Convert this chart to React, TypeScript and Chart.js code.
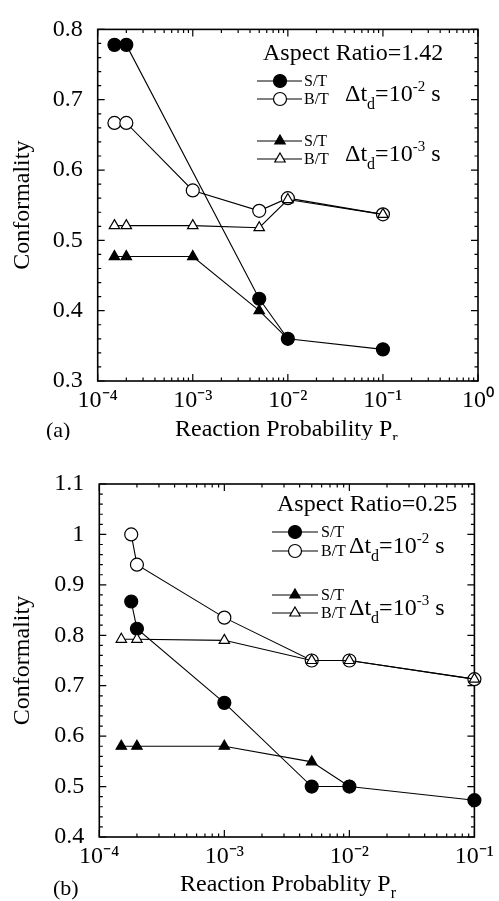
import React, { useEffect, useRef } from 'react';
import { Chart, registerables } from 'chart.js';

Chart.register(...registerables);

const SERIF = '"Liberation Serif", "Times New Roman", Times, serif';

// ---------- Panel (a): Aspect Ratio = 1.42 ----------
const A_X_TICKS = [1e-4, 1e-3, 1e-2, 1e-1, 1];
const A_X_LABELS = ['10⁻⁴', '10⁻³', '10⁻²', '10⁻¹', '10⁰'];
const A_Y_TICKS = [0.3, 0.4, 0.5, 0.6, 0.7, 0.8];
const A_Y_LABELS = ['0.3', '0.4', '0.5', '0.6', '0.7', '0.8'];

const A_ST2_X = [1.5e-4, 2e-4, 5e-3, 1e-2, 1e-1];
const A_ST2_Y = [0.778, 0.778, 0.417, 0.36, 0.345];
const A_BT2_X = [1.5e-4, 2e-4, 1e-3, 5e-3, 1e-2, 1e-1];
const A_BT2_Y = [0.667, 0.667, 0.571, 0.542, 0.56, 0.537];
const A_ST3_X = [1.5e-4, 2e-4, 1e-3, 5e-3, 1e-2];
const A_ST3_Y = [0.477, 0.477, 0.477, 0.4, 0.36];
const A_BT3_X = [1.5e-4, 2e-4, 1e-3, 5e-3, 1e-2, 1e-1];
const A_BT3_Y = [0.521, 0.521, 0.521, 0.518, 0.558, 0.537];

// ---------- Panel (b): Aspect Ratio = 0.25 ----------
const B_X_TICKS = [1e-4, 1e-3, 1e-2, 1e-1];
const B_X_LABELS = ['10⁻⁴', '10⁻³', '10⁻²', '10⁻¹'];
const B_Y_TICKS = [0.4, 0.5, 0.6, 0.7, 0.8, 0.9, 1.0, 1.1];
const B_Y_LABELS = ['0.4', '0.5', '0.6', '0.7', '0.8', '0.9', '1', '1.1'];

const B_ST2_X = [1.8e-4, 2e-4, 1e-3, 5e-3, 1e-2, 1e-1];
const B_ST2_Y = [0.867, 0.813, 0.666, 0.5, 0.5, 0.473];
const B_BT2_X = [1.8e-4, 2e-4, 1e-3, 5e-3, 1e-2, 1e-1];
const B_BT2_Y = [1.0, 0.94, 0.835, 0.75, 0.75, 0.713];
const B_ST3_X = [1.5e-4, 2e-4, 1e-3, 5e-3, 1e-2];
const B_ST3_Y = [0.58, 0.58, 0.58, 0.549, 0.5];
const B_BT3_X = [1.5e-4, 2e-4, 1e-3, 5e-3, 1e-2, 1e-1];
const B_BT3_Y = [0.792, 0.792, 0.79, 0.75, 0.75, 0.713];

const zip = (xs: number[], ys: number[]) => xs.map((x, i) => ({ x, y: ys[i] }));

type Seg = { t: string; size?: number; dy?: number };

function drawRich(ctx: CanvasRenderingContext2D, segs: Seg[], x: number, y: number, base: number) {
  let cx = x;
  ctx.textBaseline = 'alphabetic';
  ctx.textAlign = 'left';
  for (const s of segs) {
    const size = s.size ?? base;
    ctx.font = `${size}px ${SERIF}`;
    ctx.fillText(s.t, cx, y + (s.dy ?? 0));
    cx += ctx.measureText(s.t).width;
  }
}

function drawMarker(ctx: CanvasRenderingContext2D, kind: string, x: number, y: number) {
  ctx.beginPath();
  if (kind.startsWith('circle')) {
    ctx.arc(x, y, 6.5, 0, Math.PI * 2);
  } else {
    const r = 6;
    ctx.moveTo(x, y - r);
    ctx.lineTo(x + r * Math.sin((2 * Math.PI) / 3), y - r * Math.cos((2 * Math.PI) / 3));
    ctx.lineTo(x + r * Math.sin((4 * Math.PI) / 3), y - r * Math.cos((4 * Math.PI) / 3));
    ctx.closePath();
  }
  ctx.fillStyle = kind.endsWith('Open') ? '#fff' : '#000';
  ctx.fill();
  ctx.lineWidth = 1.2;
  ctx.strokeStyle = '#000';
  ctx.stroke();
}

const frameTicksPlugin = {
  id: 'frameTicks',
  beforeDatasetsDraw(chart: any) {
    const { ctx, chartArea } = chart;
    const { left, right, top, bottom } = chartArea;
    const xs = chart.scales.x;
    const ys = chart.scales.y;
    ctx.save();
    ctx.strokeStyle = '#000';
    ctx.lineWidth = 1.2;
    ctx.beginPath();
    const d0 = Math.round(Math.log10(xs.min));
    const d1 = Math.round(Math.log10(xs.max));
    for (let d = d0; d <= d1; d++) {
      for (let m = 1; m <= 9; m++) {
        const v = m * Math.pow(10, d);
        if (v > xs.max * 1.0001) break;
        const px = xs.getPixelForValue(v);
        const len = m === 1 ? 7 : 3.5;
        ctx.moveTo(px, bottom);
        ctx.lineTo(px, bottom - len);
        ctx.moveTo(px, top);
        ctx.lineTo(px, top + len);
      }
    }
    const n = Math.round((ys.max - ys.min) / 0.02);
    for (let i = 0; i <= n; i++) {
      const v = ys.min + i * 0.02;
      const py = ys.getPixelForValue(v);
      const len = i % 5 === 0 ? 7 : 3.5;
      ctx.moveTo(left, py);
      ctx.lineTo(left + len, py);
      ctx.moveTo(right, py);
      ctx.lineTo(right - len, py);
    }
    ctx.stroke();
    ctx.lineWidth = 1.6;
    ctx.strokeRect(left, top, right - left, bottom - top);
    ctx.restore();
  },
};

const annotPlugin = {
  id: 'annot',
  afterDraw(chart: any, _args: any, o: any) {
    const ctx: CanvasRenderingContext2D = chart.ctx;
    ctx.save();
    ctx.fillStyle = '#000';
    drawRich(ctx, [{ t: o.aspect }], o.aspectX, o.aspectY, 24);
    const kinds = ['circleFilled', 'circleOpen', 'triFilled', 'triOpen'];
    const names = ['S/T', 'B/T', 'S/T', 'B/T'];
    kinds.forEach((k, i) => {
      const y = o.rows[i];
      ctx.beginPath();
      ctx.strokeStyle = '#000';
      ctx.lineWidth = 1;
      ctx.moveTo(o.legX0, y);
      ctx.lineTo(o.legX1, y);
      ctx.stroke();
      drawMarker(ctx, k, o.legMarkX, y);
      ctx.fillStyle = '#000';
      drawRich(ctx, [{ t: names[i] }], o.labelX, y + 5, 16);
    });
    const exps = ['-2', '-3'];
    o.dtBaselines.forEach((b: number, i: number) => {
      drawRich(
        ctx,
        [
          { t: 'Δt' },
          { t: 'd', size: 16, dy: 8 },
          { t: '=10' },
          { t: exps[i], size: 15, dy: -10 },
          { t: ' s' },
        ],
        o.dtX,
        b,
        24
      );
    });
    drawRich(ctx, [{ t: o.xTitle }, { t: 'r', size: 16, dy: 7 }], o.xTitleX, o.xTitleY, 24);
    drawRich(ctx, [{ t: o.tag }], o.tagX, o.tagY, 22);
    ctx.restore();
  },
};

type Panel = {
  width: number;
  height: number;
  yAxisW: number;
  xAxisH: number;
  padTop: number;
  padRight: number;
  xMin: number;
  xMax: number;
  yMin: number;
  yMax: number;
  xTicks: number[];
  xLabels: string[];
  yTicks: number[];
  yLabels: string[];
  series: { data: { x: number; y: number }[]; kind: string }[];
  annot: any;
};

function makeDataset(data: { x: number; y: number }[], kind: string) {
  const open = kind.endsWith('Open');
  const tri = kind.startsWith('tri');
  return {
    data,
    showLine: true,
    borderColor: '#000',
    borderWidth: 1.1,
    pointStyle: tri ? 'triangle' : 'circle',
    pointRadius: tri ? 6 : 6.5,
    pointBackgroundColor: open ? '#fff' : '#000',
    pointBorderColor: '#000',
    pointBorderWidth: 1.2,
    clip: false,
    order: tri ? 1 : 2,
  };
}

function makeConfig(p: Panel): any {
  return {
    type: 'scatter',
    data: { datasets: p.series.map((s) => makeDataset(s.data, s.kind)) },
    options: {
      animation: false,
      responsive: false,
      events: [],
      layout: { padding: { top: p.padTop, right: p.padRight, left: 0, bottom: 0 } },
      plugins: {
        legend: { display: false },
        tooltip: { enabled: false },
        annot: p.annot,
      },
      scales: {
        x: {
          type: 'logarithmic',
          min: p.xMin,
          max: p.xMax,
          grid: { display: false, drawTicks: false },
          border: { display: false },
          afterBuildTicks: (s: any) => {
            s.ticks = p.xTicks.map((v) => ({ value: v }));
          },
          afterFit: (s: any) => {
            s.height = p.xAxisH;
          },
          ticks: {
            autoSkip: false,
            maxRotation: 0,
            padding: 5,
            color: '#000',
            font: { family: SERIF, size: 24 },
            callback: (_v: any, i: number) => p.xLabels[i],
          },
        },
        y: {
          type: 'linear',
          min: p.yMin,
          max: p.yMax,
          grid: { display: false, drawTicks: false },
          border: { display: false },
          afterBuildTicks: (s: any) => {
            s.ticks = p.yTicks.map((v) => ({ value: v }));
          },
          afterFit: (s: any) => {
            s.width = p.yAxisW;
          },
          ticks: {
            padding: 15,
            color: '#000',
            font: { family: SERIF, size: 24 },
            callback: (_v: any, i: number) => p.yLabels[i],
          },
          title: {
            display: true,
            text: 'Conformality',
            color: '#000',
            font: { family: SERIF, size: 24 },
            padding: { top: 8, bottom: 0 },
          },
        },
      },
    },
    plugins: [frameTicksPlugin, annotPlugin],
  };
}

const PANEL_A: Panel = {
  width: 499,
  height: 440,
  yAxisW: 97.7,
  xAxisH: 59,
  padTop: 27,
  padRight: 18,
  xMin: 1e-4,
  xMax: 1,
  yMin: 0.3,
  yMax: 0.8,
  xTicks: A_X_TICKS,
  xLabels: A_X_LABELS,
  yTicks: A_Y_TICKS,
  yLabels: A_Y_LABELS,
  series: [
    { data: zip(A_ST2_X, A_ST2_Y), kind: 'circleFilled' },
    { data: zip(A_BT2_X, A_BT2_Y), kind: 'circleOpen' },
    { data: zip(A_ST3_X, A_ST3_Y), kind: 'triFilled' },
    { data: zip(A_BT3_X, A_BT3_Y), kind: 'triOpen' },
  ],
  annot: {
    aspect: 'Aspect Ratio=1.42',
    aspectX: 263,
    aspectY: 60,
    legX0: 257,
    legX1: 302,
    legMarkX: 280,
    labelX: 304,
    rows: [81, 99, 141, 159],
    dtX: 345,
    dtBaselines: [101, 161],
    xTitle: 'Reaction Probability P',
    xTitleX: 175,
    xTitleY: 436,
    tag: '(a)',
    tagX: 46,
    tagY: 437,
  },
};

const PANEL_B: Panel = {
  width: 499,
  height: 461,
  yAxisW: 99.3,
  xAxisH: 64,
  padTop: 44,
  padRight: 17.3,
  xMin: 1e-4,
  xMax: 1e-1,
  yMin: 0.4,
  yMax: 1.1,
  xTicks: B_X_TICKS,
  xLabels: B_X_LABELS,
  yTicks: B_Y_TICKS,
  yLabels: B_Y_LABELS,
  series: [
    { data: zip(B_ST2_X, B_ST2_Y), kind: 'circleFilled' },
    { data: zip(B_BT2_X, B_BT2_Y), kind: 'circleOpen' },
    { data: zip(B_ST3_X, B_ST3_Y), kind: 'triFilled' },
    { data: zip(B_BT3_X, B_BT3_Y), kind: 'triOpen' },
  ],
  annot: {
    aspect: 'Aspect Ratio=0.25',
    aspectX: 277,
    aspectY: 71,
    legX0: 272,
    legX1: 318,
    legMarkX: 295,
    labelX: 321,
    rows: [92, 111, 155, 173],
    dtX: 349,
    dtBaselines: [113, 175],
    xTitle: 'Reaction Probablity P',
    xTitleX: 180,
    xTitleY: 451,
    tag: '(b)',
    tagX: 53,
    tagY: 455,
  },
};

function PanelChart({ panel }: { panel: Panel }) {
  const ref = useRef<HTMLCanvasElement | null>(null);
  useEffect(() => {
    if (!ref.current) return;
    const chart = new Chart(ref.current, makeConfig(panel));
    return () => chart.destroy();
  }, [panel]);
  return (
    <canvas
      ref={ref}
      width={panel.width}
      height={panel.height}
      style={{ display: 'block', width: panel.width, height: panel.height }}
    />
  );
}

export default function App() {
  return (
    <div
      style={{
        position: 'absolute',
        left: 0,
        top: 0,
        width: 499,
        height: 901,
        background: '#fff',
      }}
    >
      <PanelChart panel={PANEL_A} />
      <PanelChart panel={PANEL_B} />
    </div>
  );
}
